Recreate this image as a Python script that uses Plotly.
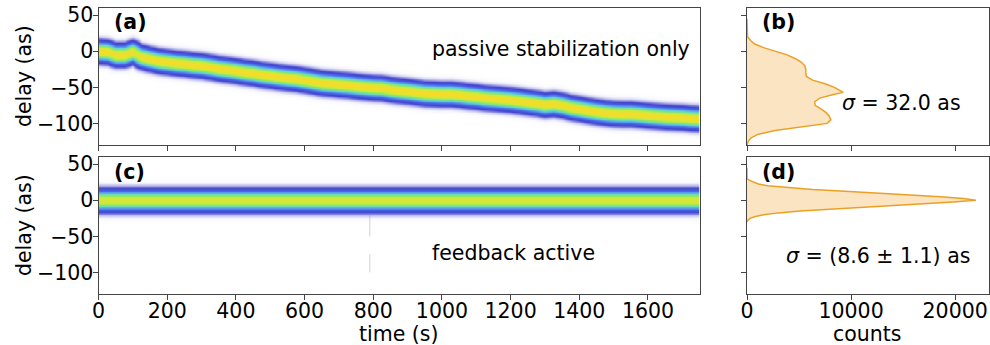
import numpy as np
import plotly.graph_objects as go

# ---------------- data ----------------
# panel (a): band centre of the delay trace vs time (passive stabilization only)
time_a = [0, 25, 50, 75, 100, 125, 150, 175, 200, 225, 250, 275, 300, 325, 350, 375,
          400, 425, 450, 475, 500, 525, 550, 575, 600, 625, 650, 675, 700, 725, 750,
          775, 800, 825, 850, 875, 900, 925, 950, 975, 1000, 1025, 1050, 1075, 1100,
          1125, 1150, 1175, 1200, 1225, 1250, 1275, 1300, 1325, 1350, 1375, 1400,
          1425, 1450, 1475, 1500, 1525, 1550, 1575, 1600, 1625, 1650, 1675, 1700,
          1725, 1750]
center_a = [0, -1, -5, -5, -1, -8, -11, -13.5, -15, -16.5, -17.5, -19, -20, -22, -24,
            -25.5, -27, -29, -30.5, -32.5, -34, -35.5, -37, -38, -40, -42, -44, -45,
            -46, -47, -48.5, -49.5, -50.5, -51, -53, -54.5, -55.5, -57, -58.5, -59,
            -59.5, -59.5, -60.5, -62, -63, -64.5, -65.5, -66.5, -67.5, -69, -70.5,
            -72, -74, -73, -75, -78, -80, -82, -84, -85.5, -86.5, -87, -87, -88, -89,
            -90, -91, -91.5, -92, -93, -93.5]
band_sigma_a = 8.0      # as, width of the band in (a)
band_peak_a = 0.75

# panel (c): feedback active, band centred on zero
time_c = [0, 1750]
center_c = [0, 0]
band_sigma_c = 8.6
band_peak_c = 0.66
glitch_time = 790
glitch_delays = [[-20, -50], [-75, -100]]

# panel (b): histogram of delays, passive
delay_b = [45, 25, 20, 15, 10, 5, 0, -5, -10, -15, -20, -25, -30, -35, -40, -45, -50,
           -55, -57, -60, -65, -70, -75, -80, -85, -90, -95, -100, -105, -110, -115,
           -120, -125, -130]
counts_b = [0, 0, 50, 350, 750, 1600, 2700, 3850, 4600, 5200, 5550, 5650, 5650, 5700,
            6300, 7500, 8400, 9100, 9250, 8300, 7000, 6500, 6550, 7100, 7600, 7900,
            8050, 7700, 4930, 2690, 1100, 400, 120, 0]

# panel (d): histogram of delays, feedback active
delay_d = [45, 30, 27.5, 25, 22.5, 20, 17.5, 15, 12.5, 10, 7.5, 5, 2.5, 0, -2.5, -5,
           -7.5, -10, -12.5, -15, -17.5, -20, -22.5, -25, -27.5, -30]
counts_d = [0, 0, 250, 600, 1100, 2000, 3900, 6300, 9400, 12700, 15900, 18600, 20800,
            22000, 19800, 16700, 13500, 10500, 7600, 5100, 3000, 1600, 800, 300, 100, 0]

delay_ticks = [-100, -50, 0, 50]
time_ticks = [0, 200, 400, 600, 800, 1000, 1200, 1400, 1600]
count_ticks = [0, 10000, 20000]
count_ticktext = ["0", "10000", "20000"]

# ---------------- figure ----------------
FONT = "DejaVu Sans"
FS = 20.5
LINE = "#444444"
HIST_LINE = "rgb(236,160,35)"
HIST_FILL = "rgba(243,178,80,0.35)"

colorscale = [
    [0.0, "rgb(255,255,255)"],
    [0.008, "rgb(248,248,253)"],
    [0.025, "rgb(212,212,242)"],
    [0.06, "rgb(125,125,222)"],
    [0.1, "rgb(68,68,205)"],
    [0.2, "rgb(70,100,228)"],
    [0.3, "rgb(90,160,235)"],
    [0.4, "rgb(100,215,200)"],
    [0.5, "rgb(140,230,110)"],
    [0.62, "rgb(205,235,60)"],
    [0.75, "rgb(246,220,40)"],
    [0.87, "rgb(242,145,40)"],
    [1.0, "rgb(215,45,30)"],
]

delay_grid = np.arange(-130, 60.5, 1.0)


def band(centers, sigma, peak):
    c = np.asarray(centers, dtype=float)
    return peak * np.exp(-(delay_grid[:, None] - c[None, :]) ** 2 / (2 * sigma ** 2))


fig = go.Figure()

fig.add_trace(go.Heatmap(x=time_a, y=delay_grid, z=band(center_a, band_sigma_a, band_peak_a),
                         colorscale=colorscale, zmin=0, zmax=1, showscale=False,
                         zsmooth="best", xaxis="x", yaxis="y", hoverinfo="skip"))
fig.add_trace(go.Heatmap(x=time_c, y=delay_grid, z=band(center_c, band_sigma_c, band_peak_c),
                         colorscale=colorscale, zmin=0, zmax=1, showscale=False,
                         zsmooth="best", xaxis="x3", yaxis="y3", hoverinfo="skip"))
for seg in glitch_delays:
    fig.add_trace(go.Scatter(x=[glitch_time, glitch_time], y=seg, mode="lines",
                             line=dict(color="rgba(130,130,215,0.4)", width=1),
                             xaxis="x3", yaxis="y3", showlegend=False, hoverinfo="skip"))

fig.add_trace(go.Scatter(x=counts_b, y=delay_b, mode="lines", fill="tozerox",
                         line=dict(color=HIST_LINE, width=1.5), fillcolor=HIST_FILL,
                         xaxis="x2", yaxis="y2", showlegend=False))
fig.add_trace(go.Scatter(x=counts_d, y=delay_d, mode="lines", fill="tozerox",
                         line=dict(color=HIST_LINE, width=1.5), fillcolor=HIST_FILL,
                         xaxis="x4", yaxis="y4", showlegend=False))

L = [98.5 / 990, 699.5 / 990]
R = [747 / 990, 988.5 / 990]
TOP = [(345 - 145) / 345, (345 - 8) / 345]
BOT = [(345 - 294) / 345, (345 - 157) / 345]

common = dict(showgrid=False, zeroline=False, showline=True, mirror=True, linecolor=LINE,
              linewidth=1, ticks="outside", ticklen=5, tickcolor=LINE, tickwidth=1,
              automargin=False, tickfont=dict(family=FONT, size=FS, color="black"))
ycommon = dict(common, ticklabelstandoff=-5)
xcommon = dict(common, ticklabelstandoff=-7)

fig.update_layout(
    width=990, height=345, margin=dict(l=0, r=0, t=0, b=0),
    paper_bgcolor="white", plot_bgcolor="white", showlegend=False,
    font=dict(family=FONT, size=FS, color="black"),
    xaxis=dict(domain=L, anchor="y", range=[0, 1750], tickvals=time_ticks,
               showticklabels=False, **xcommon),
    yaxis=dict(domain=TOP, anchor="x", range=[-130, 60], tickvals=delay_ticks, **ycommon),
    xaxis2=dict(domain=R, anchor="y2", range=[0, 23200], tickvals=count_ticks,
                showticklabels=False, **xcommon),
    yaxis2=dict(domain=TOP, anchor="x2", range=[-130, 60], tickvals=delay_ticks,
                showticklabels=False, **ycommon),
    xaxis3=dict(domain=L, anchor="y3", range=[0, 1750], tickvals=time_ticks, **xcommon),
    yaxis3=dict(domain=BOT, anchor="x3", range=[-130, 60], tickvals=delay_ticks, **ycommon),
    xaxis4=dict(domain=R, anchor="y4", range=[0, 23200], tickvals=count_ticks,
                ticktext=count_ticktext, **xcommon),
    yaxis4=dict(domain=BOT, anchor="x4", range=[-130, 60], tickvals=delay_ticks,
                showticklabels=False, **ycommon),
)

ann = []


def label(text, xref, yref, x, y, xanchor="left", bold=False, angle=0, yanchor="middle"):
    ann.append(dict(text=f"<b>{text}</b>" if bold else text, xref=xref, yref=yref, x=x, y=y,
                    xanchor=xanchor, yanchor=yanchor, showarrow=False, textangle=angle,
                    font=dict(family=FONT, size=FS, color="black")))


label("(a)", "x domain", "y domain", 0.022, 0.9, bold=True)
label("(b)", "x2 domain", "y2 domain", 0.054, 0.9, bold=True)
label("(c)", "x3 domain", "y3 domain", 0.022, 0.89, bold=True)
label("(d)", "x4 domain", "y4 domain", 0.054, 0.89, bold=True)
label("passive stabilization only", "x domain", "y domain", 0.9875, 0.7, xanchor="right")
label("feedback active", "x3 domain", "y3 domain", 0.69, 0.3, xanchor="center")
label("<i>σ</i> = 32.0 as", "x2 domain", "y2 domain", 0.894, 0.307, xanchor="right")
label("<i>σ</i> = (8.6 ± 1.1) as", "x4 domain", "y4 domain", 0.932, 0.277, xanchor="right")
# axis titles
label("delay (as)", "paper", "paper", 24 / 990, (345 - 76) / 345, xanchor="center", angle=-90)
label("delay (as)", "paper", "paper", 24 / 990, (345 - 225) / 345, xanchor="center", angle=-90)
label("time (s)", "paper", "paper", 399 / 990, (345 - 334) / 345, xanchor="center")
label("counts", "paper", "paper", 867 / 990, (345 - 334) / 345, xanchor="center")

fig.update_layout(annotations=ann)
fig.write_html("out.html", config={"displayModeBar": False},
               post_script="document.body.style.margin='0px';document.body.style.overflow='hidden';")
